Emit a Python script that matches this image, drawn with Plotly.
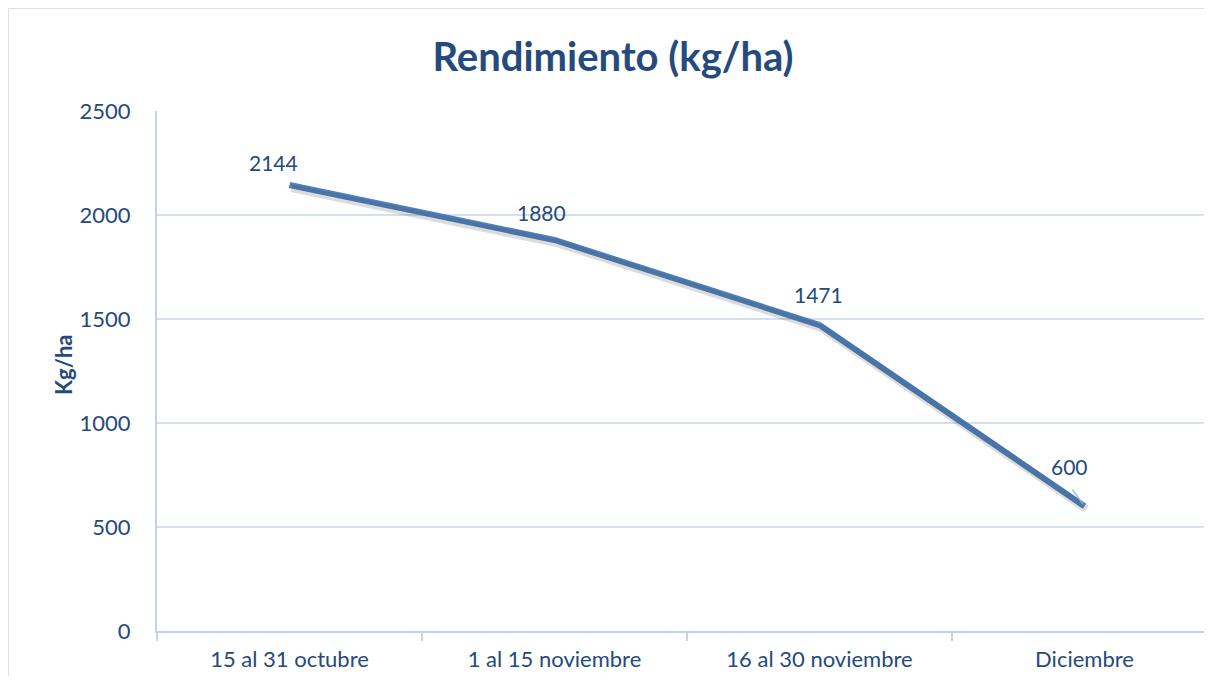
import plotly.graph_objects as go

categories = ["15 al 31 octubre", "1 al 15 noviembre", "16 al 30 noviembre", "Diciembre"]
rendimiento = [2144, 1880, 1471, 600]
label_xshift = [-16, -13, -1, -15]
label_yshift = [23, 27, 31, 40]
leader_offsets = [None, None, (-1, -6), (-13, -18)]
y_ticks = [0, 500, 1000, 1500, 2000, 2500]

TEXT = "#254A7C"
LINE = "#4F81BD"
GRID = "#D5E0EF"
AXIS = "#C3D3E9"
FONT = "Lato"

# page has an 8px body margin; size the figure to fit the window
W, H = 1196, 668
L, R, T, B = 149, 0, 103, 45
pw = W - L - R
ph = H - T - B
CAT_PX = 265
x_range = [-0.5, -0.5 + pw / CAT_PX]
y_range = [0, 2500]

# shadow offset (px) for the line
sdx, sdy = 2, 3
x_range2 = [x_range[0] - sdx / CAT_PX, x_range[1] - sdx / CAT_PX]
dy = sdy * (y_range[1] - y_range[0]) / ph
y_range2 = [y_range[0] + dy, y_range[1] + dy]

fig = go.Figure()
fig.add_trace(go.Scatter(
    x=list(range(len(categories))), y=rendimiento, mode="lines",
    line=dict(color="rgba(60,60,60,0.18)", width=8),
    xaxis="x2", yaxis="y2", hoverinfo="skip", showlegend=False,
))
fig.add_trace(go.Scatter(
    x=categories, y=rendimiento, mode="lines",
    line=dict(color=LINE, width=6),
    hoverinfo="skip", showlegend=False,
))

for c, v, dx, dy_ in zip(categories, rendimiento, label_xshift, label_yshift):
    fig.add_annotation(x=c, y=v, text=str(v), showarrow=False,
                       xshift=dx, yshift=dy_,
                       font=dict(family=FONT, size=21, color=TEXT))

for c, v, off in zip(categories, rendimiento, leader_offsets):
    if off is None:
        continue
    fig.add_annotation(x=c, y=v, text="", showarrow=True, arrowhead=0,
                       ax=off[0], ay=off[1], arrowwidth=1.2, arrowcolor="#93B1DB",
                       standoff=2)

fig.add_annotation(text="<b>Kg/ha</b>", xref="paper", yref="paper",
                   x=(55 - L) / pw, y=(H - B - 357) / ph, showarrow=False,
                   xanchor="center", yanchor="middle",
                   textangle=-90, font=dict(family=FONT, size=22, color=TEXT))

# outer chart border (left and top edges visible)
bx = (0 - L) / pw
by = (H - B - 0) / ph
fig.add_shape(type="line", xref="paper", yref="paper", x0=bx, x1=bx, y0=by, y1=-0.2,
              line=dict(color="#D9E2EE", width=2))
fig.add_shape(type="line", xref="paper", yref="paper", x0=bx, x1=1.05, y0=by, y1=by,
              line=dict(color="#D9E2EE", width=2))

fig.update_layout(
    width=W, height=H,
    margin=dict(l=L, r=R, t=T, b=B),
    paper_bgcolor="white", plot_bgcolor="white",
    title=dict(text="<b>Rendimiento (kg/ha)</b>", x=605 / W, xanchor="center",
               y=1 - 49 / H, yanchor="middle",
               font=dict(family=FONT, size=40, color=TEXT)),
    xaxis=dict(
        type="category", range=x_range,
        showgrid=False, showline=True, linecolor=AXIS, linewidth=2,
        ticks="outside", tickson="boundaries", ticklen=8, tickcolor=AXIS, tickwidth=2,
        tickfont=dict(family=FONT, size=22, color=TEXT),
        ticklabelstandoff=8, fixedrange=True,
    ),
    xaxis2=dict(overlaying="x", range=x_range2, visible=False, fixedrange=True),
    yaxis=dict(
        range=y_range, tickvals=y_ticks,
        showgrid=True, gridcolor=GRID, gridwidth=1.5,
        showline=True, linecolor=AXIS, linewidth=2,
        zeroline=False, ticks="",
        tickfont=dict(family=FONT, size=22, color=TEXT),
        ticklabelstandoff=20, fixedrange=True,
    ),
    yaxis2=dict(overlaying="y", range=y_range2, visible=False, fixedrange=True),
)

fig.write_html("out.html")
